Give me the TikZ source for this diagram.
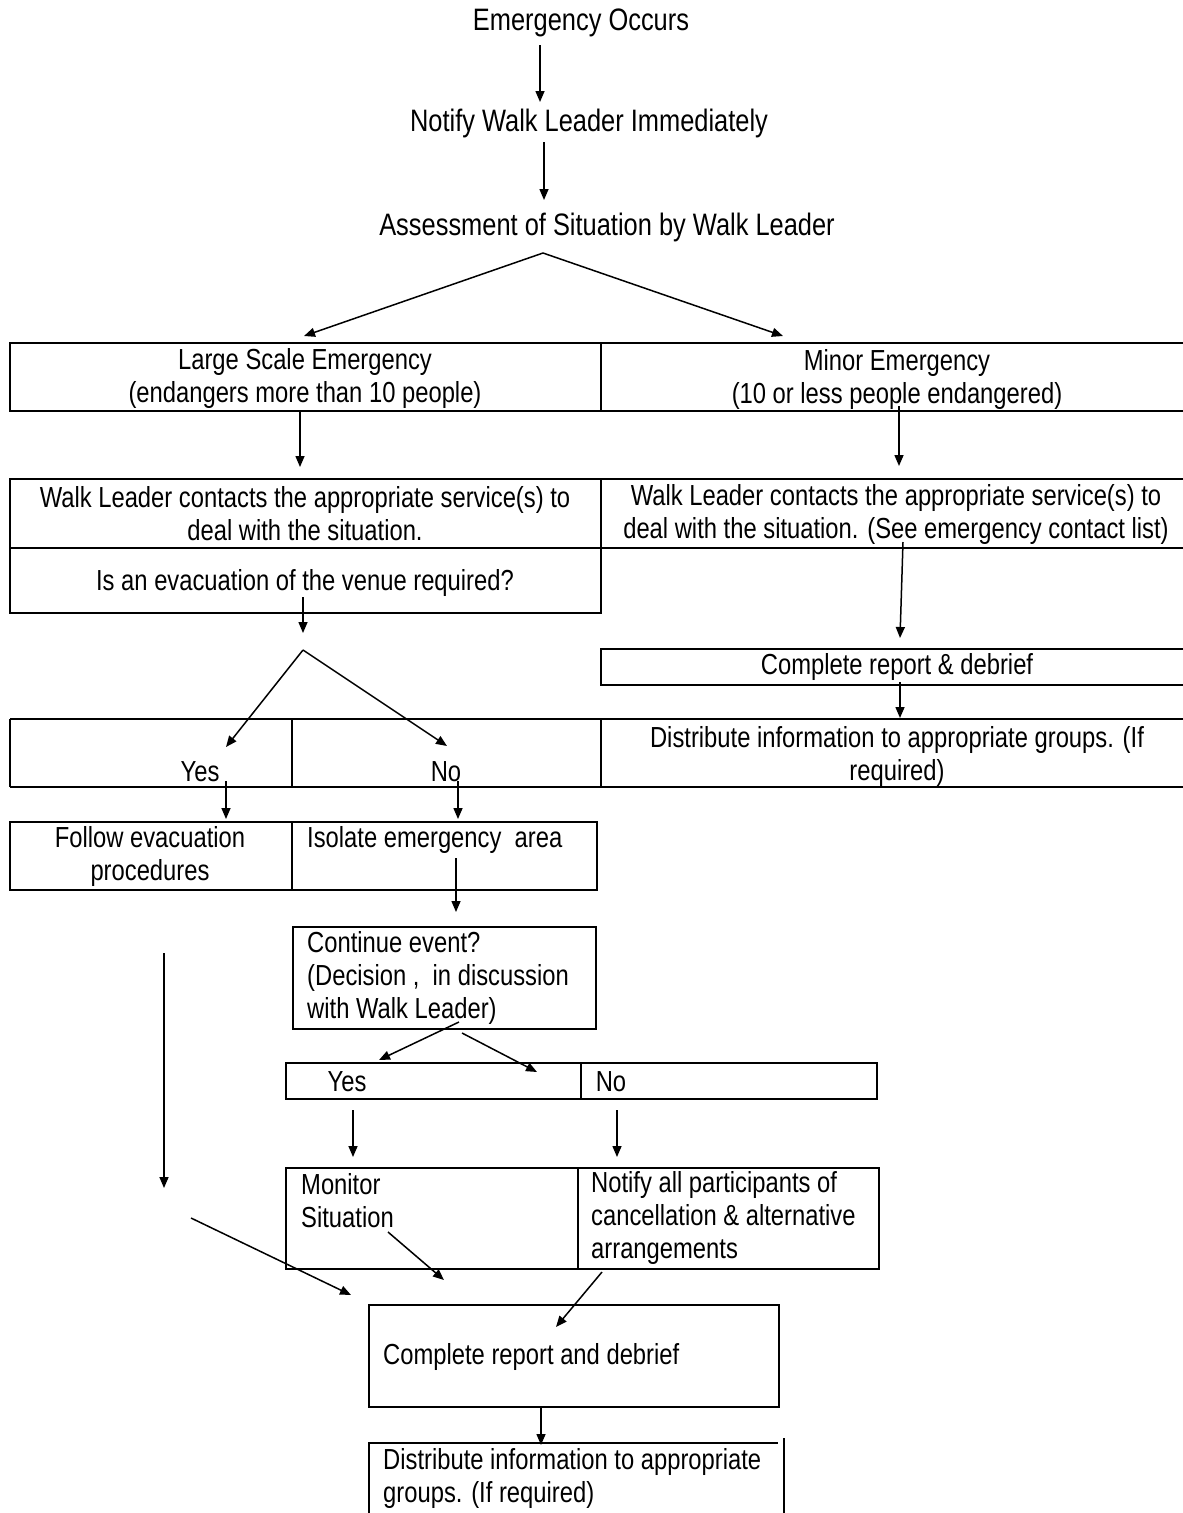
\documentclass[tikz,border=0pt]{standalone}
\usepackage{fontspec}
\setmainfont[FakeStretch=0.82]{Liberation Sans}
\usetikzlibrary{arrows.meta}
\tikzset{
  boxline/.style={line width=2.4pt},
  conn/.style={line width=1.5pt,-{Triangle[length=11pt,width=9pt]}},
  txt/.style={inner sep=0pt,align=center,font=\fontsize{29}{33}\selectfont},
  ltxt/.style={inner sep=0pt,align=left,anchor=west,font=\fontsize{29}{33}\selectfont},
  toptxt/.style={inner sep=0pt,font=\fontsize{31}{35}\selectfont},
}
\begin{document}
\begin{tikzpicture}[x=1pt,y=-1pt]
\useasboundingbox (0,0) rectangle (1183,1513);
% top texts
\node[toptxt] (eo) at (581,23) {Emergency Occurs};
\node[toptxt] (nw) at (589,123) {Notify Walk Leader Immediately};
\node[toptxt] (as) at (607,227) {Assessment of Situation by Walk Leader};
\coordinate (a1s) at (540,45); \coordinate (a1e) at (540,102);
\coordinate (a2s) at (544,142); \coordinate (a2e) at (544,200);
\coordinate (ap1) at (543,253);
\coordinate (lseT) at (304,336); \coordinate (mieT) at (783,336);
\draw[conn] (a1s) -- (a1e);
\draw[conn] (a2s) -- (a2e);
\draw[conn] (ap1) -- (lseT);
\draw[conn] (ap1) -- (mieT);
% row 1
\draw[boxline] (10,343) rectangle (601,411);
\draw[boxline] (1183,343) -- (601,343) -- (601,411) -- (1183,411);
\node[txt] (lse) at (305,378) {Large Scale Emergency\\(endangers more than 10 people)};
\node[txt] (mie) at (897,379) {Minor Emergency\\(10 or less people endangered)};
\coordinate (b1s) at (300,412); \coordinate (b1e) at (300,467);
\coordinate (b2s) at (899,406); \coordinate (b2e) at (899,466);
\draw[conn] (b1s) -- (b1e);
\draw[conn] (b2s) -- (b2e);
% row 2
\draw[boxline] (10,479) rectangle (601,613);
\draw[boxline] (10,548) -- (601,548);
\draw[boxline] (1183,479) -- (601,479) -- (601,548) -- (1183,548);
\node[txt] (wl1) at (305,514) {Walk Leader contacts the appropriate service(s) to\\deal with the situation.};
\node[txt] (evq) at (305,583) {Is an evacuation of the venue required?};
\node[txt] (wl2) at (896,514) {Walk Leader contacts the appropriate service(s) to\\deal with the situation. (See emergency contact list)};
\coordinate (c1s) at (303,597); \coordinate (c1e) at (303,633);
\coordinate (c2s) at (903,542); \coordinate (c2e) at (900,638);
\draw[conn] (c1s) -- (c1e);
\draw[conn] (c2s) -- (c2e);
% fork 2
\coordinate (ap2) at (303,650);
\coordinate (yesT) at (226,747); \coordinate (noT) at (447,746);
\draw[conn] (ap2) -- (yesT);
\draw[conn] (ap2) -- (noT);
% complete report & debrief (right)
\draw[boxline] (1183,649) -- (601,649) -- (601,685) -- (1183,685);
\node[txt] (crd) at (897,667) {Complete report \& debrief};
\coordinate (d1s) at (900,682); \coordinate (d1e) at (900,718);
\draw[conn] (d1s) -- (d1e);
% row 3
\draw[boxline] (10,719) -- (1183,719);
\draw[boxline] (10,787) -- (1183,787);
\draw[boxline] (10,719) -- (10,787);
\draw[boxline] (292,719) -- (292,787);
\draw[boxline] (601,719) -- (601,787);
\node[txt] (yes1) at (200,772) {Yes};
\node[txt] (no1) at (446,772) {No};
\node[txt] (dist1) at (897,756) {Distribute information to appropriate groups. (If\\required)};
\coordinate (e1s) at (226,781); \coordinate (e1e) at (226,819);
\coordinate (e2s) at (458,781); \coordinate (e2e) at (458,819);
\draw[conn] (e1s) -- (e1e);
\draw[conn] (e2s) -- (e2e);
% row 4
\draw[boxline] (10,822) rectangle (597,890);
\draw[boxline] (292,822) -- (292,890);
\node[txt] (fep) at (150,856) {Follow evacuation\\procedures};
\node[ltxt] (iso) at (307,840) {Isolate emergency\ \ area};
\coordinate (f1s) at (456,858); \coordinate (f1e) at (456,912);
\draw[conn] (f1s) -- (f1e);
% continue event box
\draw[boxline] (293,927) rectangle (596,1029);
\node[ltxt] (cont) at (307,978) {Continue event?\\(Decision ,\ \ in discussion\\with Walk Leader)};
% long left line
\coordinate (g0s) at (164,953); \coordinate (g0e) at (164,1188);
\draw[conn] (g0s) -- (g0e);
\coordinate (g1s) at (459,1022); \coordinate (g1e) at (379,1060);
\coordinate (g2s) at (462,1033); \coordinate (g2e) at (537,1072);
\draw[conn] (g1s) -- (g1e);
\draw[conn] (g2s) -- (g2e);
% yes/no 2
\draw[boxline] (286,1063) rectangle (877,1099);
\draw[boxline] (581,1063) -- (581,1099);
\node[txt] (yes2) at (347,1082) {Yes};
\node[txt] (no2) at (611,1082) {No};
\coordinate (h1s) at (353,1110); \coordinate (h1e) at (353,1157);
\coordinate (h2s) at (617,1110); \coordinate (h2e) at (617,1157);
\draw[conn] (h1s) -- (h1e);
\draw[conn] (h2s) -- (h2e);
% monitor / notify
\draw[boxline] (286,1168) rectangle (879,1269);
\draw[boxline] (578,1168) -- (578,1269);
\node[ltxt] (mon) at (301,1201) {Monitor\\Situation};
\node[ltxt] (nap) at (591,1218) {Notify all participants of\\cancellation \& alternative\\arrangements};
\coordinate (k1s) at (191,1218); \coordinate (k1e) at (351,1295);
\coordinate (k2s) at (388,1232); \coordinate (k2e) at (444,1280);
\coordinate (k3s) at (602,1272); \coordinate (k3e) at (556,1327);
\draw[conn] (k1s) -- (k1e);
\draw[conn] (k2s) -- (k2e);
\draw[conn] (k3s) -- (k3e);
% complete report box
\draw[boxline] (369,1305) rectangle (779,1407);
\node[ltxt] (crb) at (383,1357) {Complete report and debrief};
\coordinate (m1s) at (541,1407); \coordinate (m1e) at (541,1445);
\draw[conn] (m1s) -- (m1e);
% distribute box (bottom)
\draw[boxline] (369,1513) -- (369,1443) -- (778,1443);
\draw[boxline] (784,1438) -- (784,1513);
\node[ltxt] (dist2) at (383,1478) {Distribute information to appropriate\\groups. (If required)};
\end{tikzpicture}
\end{document}
